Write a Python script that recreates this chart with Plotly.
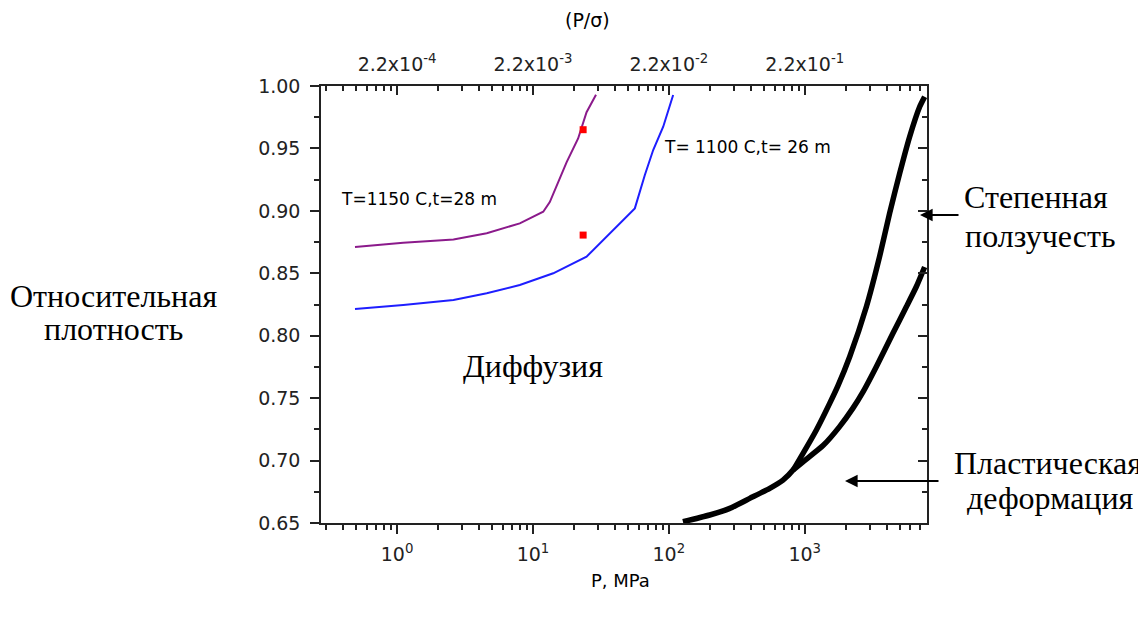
import plotly.graph_objects as go

# ---- data ----
p_1150 = [0.49, 1.11, 2.6, 4.57, 8.0, 11.9, 13.3, 17.7, 21.5, 24.8, 29.1]
d_1150 = [0.871, 0.8745, 0.877, 0.882, 0.890, 0.8993, 0.907, 0.939, 0.958, 0.979, 0.993]

p_1100 = [0.49, 1.11, 2.6, 4.57, 8.0, 14.1, 24.8, 36.8, 56.2, 66.6, 76.7, 90.9, 107.6]
d_1100 = [0.8214, 0.8246, 0.8286, 0.834, 0.8406, 0.850, 0.8633, 0.882, 0.902, 0.9287, 0.9487, 0.9674, 0.9928]

p_exp = [23.4, 23.4]
d_exp = [0.965, 0.8806]

# power-law creep branch (upper black curve)
p_creep = [127, 200, 281, 394, 553, 692, 820, 972, 1219, 1527, 1758, 2143, 2843, 3556, 4214, 4998, 5920, 7015, 7630]
d_creep = [0.651, 0.6564, 0.6617, 0.6697, 0.6778, 0.6844, 0.6924, 0.7058, 0.7245, 0.7458, 0.760,
           0.7832, 0.8232, 0.8633, 0.898, 0.930, 0.9594, 0.9834, 0.9914]

# plastic deformation branch (lower black curve)
p_plast = [820, 972, 1364, 1800, 2265, 2686, 3365, 4460, 5598, 6625, 7630]
d_plast = [0.6924, 0.699, 0.712, 0.727, 0.742, 0.755, 0.7752, 0.8019, 0.8232, 0.8392, 0.855]

bottom_tickvals = [1, 10, 100, 1000]
bottom_ticktext = ["10<sup>0</sup>", "10<sup>1</sup>", "10<sup>2</sup>", "10<sup>3</sup>"]
top_ticktext = ["2.2x10<sup>-4</sup>", "2.2x10<sup>-3</sup>", "2.2x10<sup>-2</sup>", "2.2x10<sup>-1</sup>"]

# ---- layout geometry (screen pixels; page body has an 8px margin) ----
OFF = 8
W, H = 1138, 609
L, R, T, B = 321, 927, 86, 523
XR = [-0.56, 3.9]
YR = [0.65, 1.0]

minor_log = [m * 10 ** k for k in range(-1, 4) for m in range(2, 10)]

def px(x):
    return (x - L) / (R - L)

def py(y):
    return (B - y) / (B - T)

sans = "DejaVu Sans"
serif = "Liberation Serif"
ink = "#222"

fig = go.Figure()
fig.add_trace(go.Scatter(x=p_1150, y=d_1150, mode="lines", line=dict(color="#8B1A8B", width=2)))
fig.add_trace(go.Scatter(x=p_1100, y=d_1100, mode="lines", line=dict(color="#1E1EFF", width=2)))
fig.add_trace(go.Scatter(x=p_exp, y=d_exp, mode="markers",
                         marker=dict(symbol="square", color="#FF0000", size=7)))
fig.add_trace(go.Scatter(x=p_creep, y=d_creep, mode="lines",
                         line=dict(color="black", width=5.5, shape="spline", smoothing=0.5)))
fig.add_trace(go.Scatter(x=p_plast, y=d_plast, mode="lines",
                         line=dict(color="black", width=5.5, shape="spline", smoothing=0.5)))
# invisible traces to activate secondary axes
fig.add_trace(go.Scatter(x=[1], y=[0.8], xaxis="x2", yaxis="y", mode="markers",
                         marker=dict(opacity=0), hoverinfo="skip"))
fig.add_trace(go.Scatter(x=[1], y=[0.8], xaxis="x", yaxis="y2", mode="markers",
                         marker=dict(opacity=0), hoverinfo="skip"))

axis_common = dict(showgrid=False, zeroline=False, showline=True, linecolor=ink, linewidth=1.5,
                   tickcolor=ink, tickwidth=1.5)
tfont = dict(family=sans, size=19, color=ink)

fig.update_layout(
    width=W, height=H,
    margin=dict(l=L - OFF, r=W - (R - OFF), t=T - OFF, b=H - (B - OFF), autoexpand=False),
    paper_bgcolor="white", plot_bgcolor="white",
    showlegend=False,
    xaxis=dict(type="log", range=XR, tickvals=bottom_tickvals, ticktext=bottom_ticktext,
               ticks="outside", ticklen=9, ticklabelstandoff=4,
               minor=dict(tickvals=minor_log, ticks="outside", ticklen=5, tickcolor=ink,
                          tickwidth=1.5, showgrid=False),
               tickfont=tfont, **axis_common),
    xaxis2=dict(type="log", range=XR, overlaying="x", side="top", anchor="y",
                tickvals=bottom_tickvals, ticktext=top_ticktext,
                ticks="inside", ticklen=9, ticklabelstandoff=6,
                minor=dict(tickvals=minor_log, ticks="inside", ticklen=5, tickcolor=ink,
                           tickwidth=1.5, showgrid=False),
                tickfont=tfont, **axis_common),
    yaxis=dict(range=YR, dtick=0.05, tickformat=".2f", ticks="outside", ticklen=9,
               ticklabelstandoff=6,
               minor=dict(dtick=0.025, ticks="outside", ticklen=5, tickcolor=ink, tickwidth=1.5),
               tickfont=tfont, **axis_common),
    yaxis2=dict(range=YR, dtick=0.05, overlaying="y", side="right", anchor="x",
                ticks="inside", ticklen=9, showticklabels=False,
                minor=dict(dtick=0.025, ticks="inside", ticklen=5, tickcolor=ink, tickwidth=1.5),
                **axis_common),
)

def text(s, x, y, size, family, xanchor="center"):
    fig.add_annotation(text=s, x=px(x), y=py(y), xref="paper", yref="paper",
                       showarrow=False, xanchor=xanchor, yanchor="middle",
                       font=dict(family=family, size=size, color="black"))

text("T=1150 C,t=28 m", 339, 199, 17, sans, xanchor="left")
text("T= 1100 C,t= 26 m", 662, 147, 17, sans, xanchor="left")
text("Диффузия", 533, 366, 32, serif)
text("Степенная", 1036, 197, 32, serif)
text("ползучесть", 1040, 236, 32, serif)
text("Пластическая", 1048, 463, 32, serif)
text("деформация", 1050, 498, 32, serif)
text("Относительная", 113, 296, 32, serif)
text("плотность", 113, 329, 32, serif)
text("P, MPa", 620, 580, 18, sans)
text("(P/σ)", 587, 20, 19, sans)

def arrow(x_head, y_head, x_tail):
    fig.add_annotation(x=px(x_head), y=py(y_head), xref="paper", yref="paper",
                       ax=x_tail - x_head, ay=0, axref="pixel", ayref="pixel",
                       text="", showarrow=True, arrowhead=2, arrowsize=1.4, arrowwidth=1.8,
                       arrowcolor="black")

arrow(920, 215, 960)
arrow(845, 481, 940)

fig.write_html("out.html")
